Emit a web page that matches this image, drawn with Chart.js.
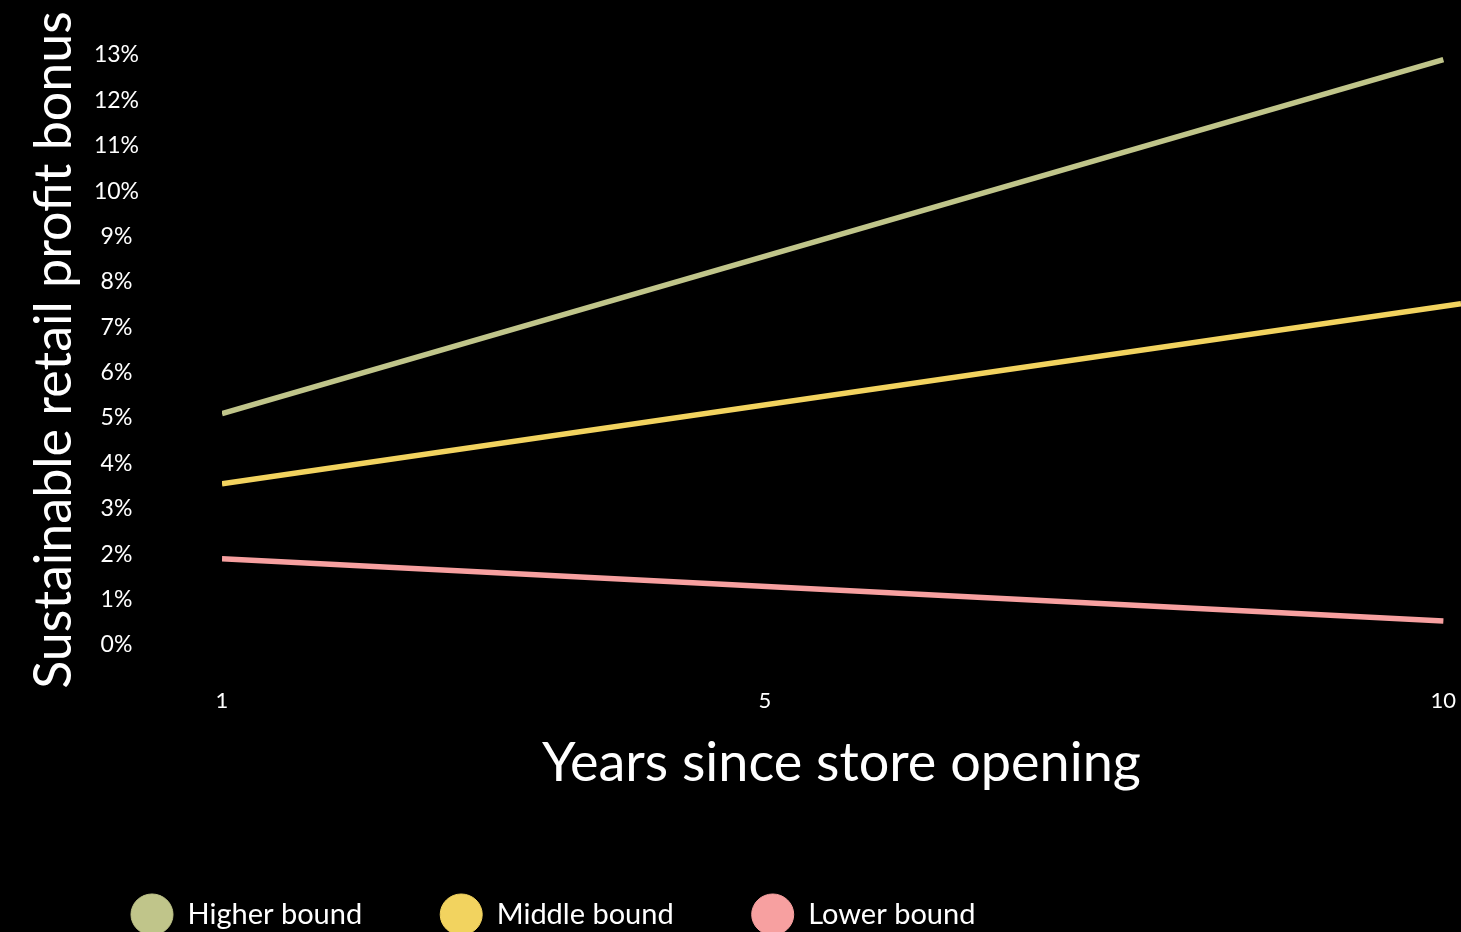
<!DOCTYPE html>
<html>
<head>
<meta charset="utf-8">
<script src="https://cdn.jsdelivr.net/npm/chart.js@4"></script>
<style>
html,body{margin:0;padding:0;background:#000;}
#wrap{width:1461px;height:932px;position:relative;}
</style>
</head>
<body>
<div id="wrap"><canvas id="c"></canvas></div>
<script>
const seriesNames = ["Higher bound", "Middle bound", "Lower bound"];
const higherBound = [{x: 1, y: 5.1}, {x: 10, y: 12.9}];
const middleBound = [{x: 1, y: 3.55}, {x: 10.13, y: 7.52}];
const lowerBound = [{x: 1, y: 1.9}, {x: 10, y: 0.53}];
const xTickValues = [1, 5, 10];
const yTickValues = [0,1,2,3,4,5,6,7,8,9,10,11,12,13];
const colors = ["#c0c58a", "#f2d35f", "#f7a0a0"];

const FONT = "Lato, 'Open Sans', sans-serif";

const legendShift = {
  id: 'legendShift',
  afterLayout(chart) {
    if (chart.legend) { chart.legend.left += 53; }
  }
};

new Chart(document.getElementById('c'), {
  type: 'line',
  data: {
    datasets: [
      {label: seriesNames[0], data: higherBound, borderColor: colors[0], backgroundColor: colors[0]},
      {label: seriesNames[1], data: middleBound, borderColor: colors[1], backgroundColor: colors[1]},
      {label: seriesNames[2], data: lowerBound, borderColor: colors[2], backgroundColor: colors[2]}
    ]
  },
  options: {
    responsive: true,
    maintainAspectRatio: false,
    animation: false,
    layout: {padding: {left: 0, right: 0, top: 55, bottom: -7}},
    elements: {
      line: {borderWidth: 5.5, tension: 0, borderCapStyle: 'butt'},
      point: {radius: 0, hoverRadius: 0}
    },
    plugins: {
      tooltip: {enabled: false},
      legend: {
        position: 'bottom',
        align: 'start',
        labels: {
          usePointStyle: true,
          pointStyle: 'circle',
          pointStyleWidth: 42,
          color: '#ffffff',
          padding: 78,
          font: {family: FONT, size: 29}
        }
      }
    },
    scales: {
      x: {
        type: 'linear',
        min: 1,
        max: 10.13,
        afterFit(scale) { scale.height = 177; },
        afterBuildTicks(scale) { scale.ticks = xTickValues.map(v => ({value: v})); },
        grid: {display: false, drawTicks: true, tickLength: 43},
        border: {display: false},
        ticks: {
          color: '#ffffff',
          padding: 0,
          maxRotation: 0,
          font: {family: FONT, size: 22},
          callback: v => String(v)
        },
        title: {
          display: true,
          text: 'Years since store opening',
          color: '#ffffff',
          font: {family: FONT, size: 54},
          padding: {top: 0, bottom: 26}
        }
      },
      y: {
        type: 'linear',
        min: 0,
        max: 13,
        afterFit(scale) { scale.width = 222; },
        afterBuildTicks(scale) { scale.ticks = yTickValues.map(v => ({value: v})); },
        grid: {display: false, drawTicks: true, tickLength: 83},
        border: {display: false},
        ticks: {
          color: '#ffffff',
          padding: 0,
          crossAlign: 'center',
          font: {family: FONT, size: 23},
          callback: v => v + '%'
        },
        title: {
          display: true,
          text: 'Sustainable retail profit bonus',
          color: '#ffffff',
          font: {family: FONT, size: 52},
          padding: {top: 23, bottom: 0}
        }
      }
    }
  },
  plugins: [legendShift]
});
</script>
</body>
</html>
